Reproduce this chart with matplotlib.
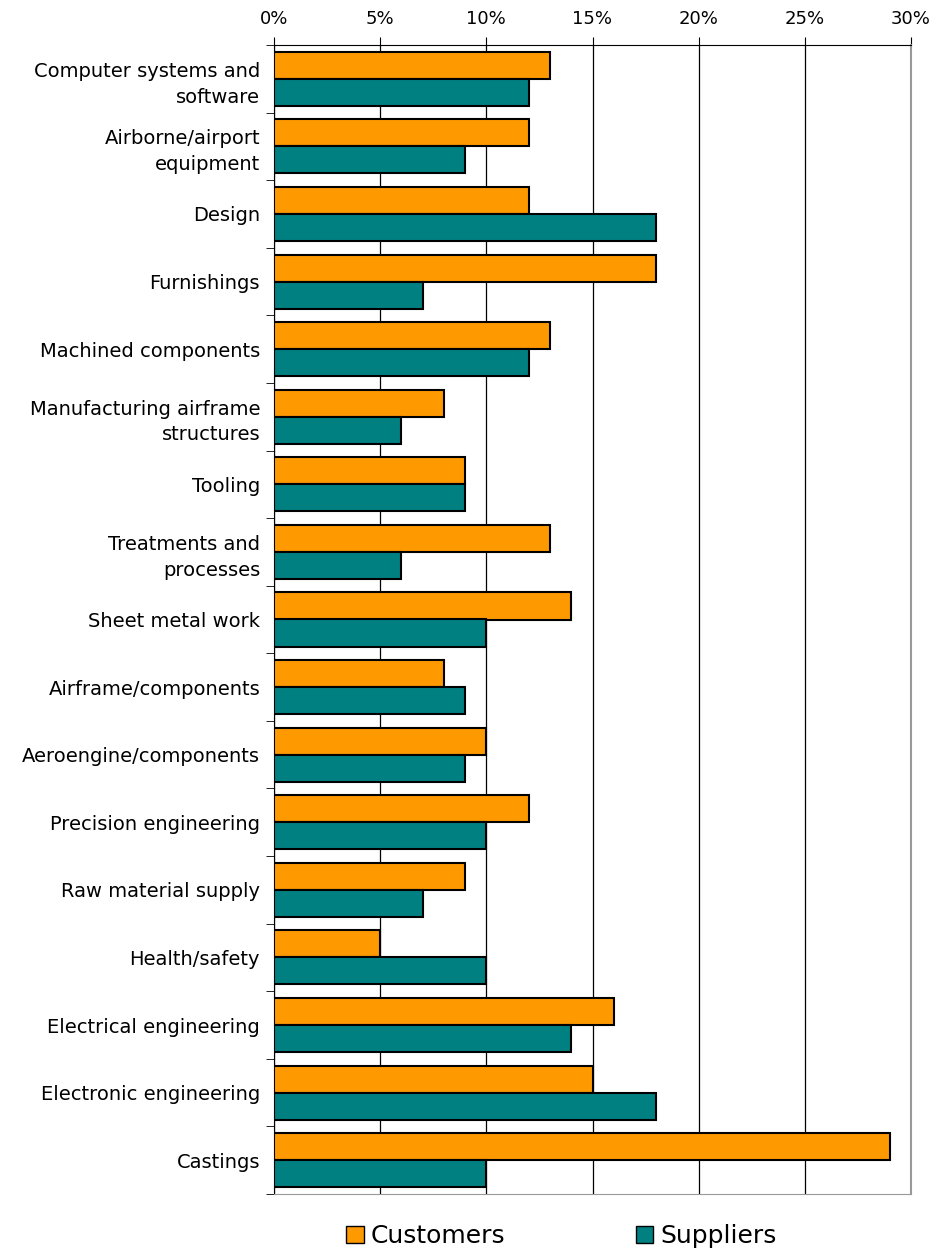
import matplotlib

matplotlib.use("Agg")
import matplotlib.pyplot as plt
import numpy as np
from matplotlib.patches import Patch
from matplotlib.ticker import FuncFormatter, MultipleLocator

categories = [
    "Computer systems and\nsoftware",
    "Airborne/airport\nequipment",
    "Design",
    "Furnishings",
    "Machined components",
    "Manufacturing airframe\nstructures",
    "Tooling",
    "Treatments and\nprocesses",
    "Sheet metal work",
    "Airframe/components",
    "Aeroengine/components",
    "Precision engineering",
    "Raw material supply",
    "Health/safety",
    "Electrical engineering",
    "Electronic engineering",
    "Castings",
]
customers = [13, 12, 12, 18, 13, 8, 9, 13, 14, 8, 10, 12, 9, 5, 16, 15, 29]
suppliers = [12, 9, 18, 7, 12, 6, 9, 6, 10, 9, 9, 10, 7, 10, 14, 18, 10]

ORANGE = "#FF9900"
TEAL = "#008080"

plt.rcParams["font.family"] = ["DejaVu Sans"]

fig = plt.figure(figsize=(9.36, 12.6), dpi=100)
ax = fig.add_axes([274 / 936, 1 - 1194 / 1260, (911 - 274) / 936, (1194 - 45) / 1260])

y = np.arange(len(categories))
h = 0.4
ax.barh(y - h / 2, customers, height=h, color=ORANGE, edgecolor="black", lw=1.5, zorder=3)
ax.barh(y + h / 2, suppliers, height=h, color=TEAL, edgecolor="black", lw=1.5, zorder=3)

ax.set_xlim(0, 30)
ax.set_ylim(len(categories) - 0.5, -0.5)
ax.xaxis.set_major_locator(MultipleLocator(5))
ax.xaxis.set_major_formatter(FuncFormatter(lambda v, _: f"{v:.0f}%"))
ax.xaxis.tick_top()
ax.tick_params(axis="x", direction="out", length=6, labelsize=13, pad=6)
ax.grid(axis="x", color="black", lw=0.9, zorder=0)

# category labels sit between the boundary ticks
ax.set_yticks(y)
ax.set_yticklabels(categories, fontsize=14, ha="right", multialignment="right",
                   linespacing=1.45)
ax.tick_params(axis="y", length=0, pad=10)
ax.set_yticks(np.arange(len(categories) + 1) - 0.5, minor=True)
ax.tick_params(axis="y", which="minor", length=6, direction="out")

for s in ("top", "left"):
    ax.spines[s].set_color("black")
ax.spines["right"].set_color("#999999")
ax.spines["right"].set_linewidth(1.5)
ax.spines["bottom"].set_color("#999999")

handles = [
    Patch(facecolor=ORANGE, edgecolor="black", label="Customers"),
    Patch(facecolor=TEAL, edgecolor="black", label="Suppliers"),
]
fig.legend(
    handles=handles, loc="center", ncol=2, bbox_to_anchor=(0.6, 1 - 1236 / 1260),
    frameon=False, fontsize=18, columnspacing=5.2, handlelength=0.7,
    handleheight=0.7, handletextpad=0.3,
)

fig.savefig("out.png", dpi=100)
